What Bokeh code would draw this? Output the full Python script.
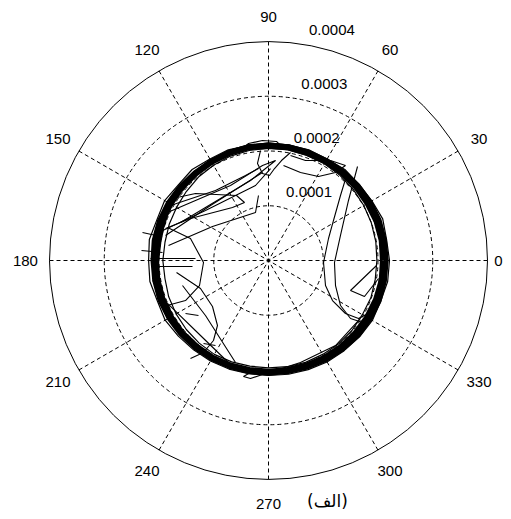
import numpy as np
from bokeh.plotting import figure
from bokeh.embed import file_html
from bokeh.resources import INLINE
from bokeh.core.properties import value

# ---------------- data (radial values in units of 1e-4) ----------------
grid_levels = [1, 2, 3]
outer_level = 4
radial_tick_labels = ["0.0001", "0.0002", "0.0003", "0.0004"]
radial_tick_values = [1, 2, 3, 4]
spoke_angles = [0, 30, 60, 90, 120, 150]
angle_tick_deg = [30, 60, 90, 120, 150, 180, 210, 240, 270, 300, 330]
angle_tick_labels = ["30", "60", "90", "120", "150", "180", "210", "240", "270", "300", "330"]
caption = "(الف)"

# main orbit passes: theta (deg) and rho (x1e-4)
orbit_theta = [0, 10, 20, 30, 40, 50, 60, 70, 80, 90, 100, 110, 120, 130, 140, 150, 160, 170, 180,
               190, 200, 210, 220, 230, 240, 250, 260, 270, 280, 290, 300, 310, 320, 330, 340, 350, 360]
orbit_mid = [2.09, 2.10, 2.10, 2.09, 2.09, 2.09, 2.09, 2.09, 2.10, 2.09, 2.10, 2.09, 2.08, 2.07, 2.07,
             2.07, 2.07, 2.06, 2.06, 2.06, 2.06, 2.06, 2.06, 2.05, 2.05, 2.04, 2.03, 2.03, 2.03, 2.04,
             2.05, 2.06, 2.07, 2.08, 2.09, 2.10, 2.09]
orbit_mid2 = [2.15, 2.15, 2.15, 2.14, 2.13, 2.12, 2.11, 2.11, 2.11, 2.11, 2.11, 2.10, 2.09, 2.09, 2.10,
              2.11, 2.12, 2.12, 2.11, 2.11, 2.11, 2.10, 2.09, 2.08, 2.07, 2.06, 2.06, 2.06, 2.06, 2.07,
              2.09, 2.11, 2.13, 2.14, 2.15, 2.15, 2.15]
orbit_out = [2.21, 2.19, 2.22, 2.18, 2.16, 2.17, 2.14, 2.15, 2.14, 2.15, 2.13, 2.15, 2.14, 2.17, 2.15,
             2.19, 2.17, 2.21, 2.19, 2.20, 2.16, 2.18, 2.15, 2.13, 2.12, 2.11, 2.10, 2.10, 2.11, 2.12,
             2.14, 2.15, 2.17, 2.19, 2.18, 2.21, 2.21]
orbit_in = [1.98, 1.99, 2.00, 2.01, 2.02, 2.03, 2.04, 2.04, 2.05, 2.05, 2.04, 2.03, 2.01, 1.99, 1.96,
            1.94, 1.93, 1.92, 1.93, 1.92, 1.94, 1.95, 1.96, 1.97, 1.98, 1.97, 1.96, 1.96, 1.97, 1.98,
            1.98, 1.99, 1.99, 1.98, 1.99, 1.98, 1.98]
orbit_z1 = [2.13, 2.07, 2.15, 2.08, 2.11, 2.06, 2.12, 2.07, 2.12, 2.08, 2.11, 2.06, 2.10, 2.04, 2.11,
            2.02, 2.13, 2.00, 2.14, 2.01, 2.11, 2.02, 2.09, 2.03, 2.08, 2.02, 2.06, 2.00, 2.06, 2.02,
            2.08, 2.03, 2.11, 2.05, 2.13, 2.05, 2.13]
orbit_z2 = [2.05, 2.14, 2.06, 2.13, 2.05, 2.12, 2.07, 2.11, 2.07, 2.11, 2.08, 2.12, 2.04, 2.12, 2.02,
            2.14, 2.00, 2.15, 2.01, 2.14, 2.02, 2.12, 2.03, 2.09, 2.03, 2.07, 2.01, 2.05, 2.02, 2.06,
            2.03, 2.09, 2.04, 2.13, 2.06, 2.16, 2.05]
orbit_drift = [2.12, 2.13, 2.11, 2.10, 2.11, 2.12, 2.10, 2.08, 2.07, 2.08, 2.09, 2.11, 2.12, 2.10, 2.09,
               2.05, 2.02, 2.00, 2.01, 2.04, 2.08, 2.10, 2.08, 2.04, 2.02, 2.05, 2.06, 2.02, 2.00, 2.03,
               2.06, 2.09, 2.11, 2.13, 2.12, 2.10, 2.12]

# excursions of the trajectory (x, y in units of 1e-4)
exc_right_d1 = [(1.443, 1.607), (1.315, 1.187), (1.187, 0.731), (1.096, 0.402), (1.005, -0.037),
                (1.041, -0.457), (1.169, -0.731), (1.406, -0.968), (1.644, -1.059), (1.863, -0.950)]
exc_right_d2 = [(1.626, 1.717), (1.461, 1.096), (1.315, 0.457), (1.205, -0.037), (1.224, -0.457),
                (1.315, -0.822), (1.498, -1.059), (1.717, -1.132)]
exc_right_fan = [(1.973, -0.091), (1.498, -0.548), (1.753, -0.658), (2.009, -0.329)]
exc_low_right = [(1.680, -1.059), (1.224, -1.553), (0.584, -1.863), (0.128, -2.009), (-0.237, -2.064)]
exc_bottom_loop = [(-0.110, -2.082), (-0.329, -2.155), (-0.457, -2.119), (-0.329, -2.046), (-0.110, -2.082)]
exc_top_loop = [(-0.511, 2.009), (-0.365, 2.137), (-0.110, 2.192), (0.146, 2.174), (0.256, 2.064)]
exc_top_tongue = [(-0.146, 2.009), (-0.201, 1.772), (-0.110, 1.589), (0.018, 1.553), (0.110, 1.680),
                  (0.237, 1.826), (0.402, 1.973)]
exc_top_right = [(0.274, 1.735), (0.584, 1.607), (0.913, 1.534), (1.224, 1.607), (1.406, 1.735),
                 (1.132, 1.826), (0.676, 1.826), (0.402, 1.918)]
exc_ul_1 = [(-2.009, 0.511), (-1.151, 0.913), (-0.237, 1.370), (0.037, 1.680)]
exc_ul_2 = [(-1.753, 1.132), (-1.333, 1.224), (-0.584, 1.187), (-0.438, 1.059), (-0.658, 0.968),
            (-1.425, 0.767), (-1.881, 0.584)]
exc_ul_3 = [(-1.881, 0.457), (-1.059, 1.005), (-0.110, 1.607)]
exc_ul_4 = [(-1.826, 0.274), (-1.023, 0.621), (-0.237, 0.877), (-0.183, 1.187)]
exc_ul_5 = [(-1.973, 0.822), (-0.694, 1.370), (-0.110, 1.735), (0.128, 1.826), (-0.329, 1.461),
            (-1.607, 0.694)]
exc_ul_6 = [(-1.790, 1.005), (-0.968, 1.279), (-0.420, 1.553), (-0.183, 1.680)]
exc_left_bulge = [(-1.845, 0.603), (-1.425, 0.402), (-1.187, -0.037), (-1.260, -0.457),
                  (-1.516, -0.731), (-1.918, -0.840)]
exc_left_arc = [(-1.680, -0.219), (-1.242, -0.511), (-1.023, -0.840), (-0.932, -1.187),
                (-1.005, -1.461), (-1.187, -1.680), (-1.425, -1.790)]
exc_diag_1 = [(-1.571, -0.457), (-1.151, -1.005), (-0.603, -1.863)]
exc_diag_2 = [(-1.845, -0.785), (-1.242, -1.370), (-0.639, -1.954)]
exc_tick_1 = [(-1.516, -0.968), (-1.279, -1.005)]
exc_tick_2 = [(-1.187, -1.516), (-0.968, -1.553)]
exc_spike_1 = [(-2.301, 0.511), (-1.973, 0.438)]
exc_spike_2 = [(-2.320, 0.183), (-1.936, 0.146)]
exc_left_h1 = [(-2.155, 0.037), (-1.333, 0.037)]
exc_left_h2 = [(-2.064, -0.110), (-1.388, -0.110)]

excursions = [exc_right_d1, exc_right_d2, exc_right_fan, exc_low_right, exc_bottom_loop,
              exc_top_loop, exc_top_tongue, exc_top_right, exc_ul_1, exc_ul_2, exc_ul_3,
              exc_ul_4, exc_ul_5, exc_ul_6, exc_left_bulge, exc_left_arc, exc_diag_1, exc_diag_2,
              exc_tick_1, exc_tick_2, exc_spike_1, exc_spike_2, exc_left_h1, exc_left_h2]

# ---------------- figure ----------------
W, H = 503, 511
scale = 54.75  # px per unit
cx, cy = 268, 260
p = figure(width=W, height=H, output_backend="svg", toolbar_location=None,
           x_range=(-cx / scale, (W - cx) / scale),
           y_range=(-(H - cy) / scale, cy / scale),
           min_border=0, background_fill_color="white", border_fill_color="white")
p.axis.visible = False
p.grid.visible = False
p.outline_line_color = None

FONT = "Liberation Sans"

# dashed range circles
p.circle(x=[0] * len(grid_levels), y=[0] * len(grid_levels), radius=grid_levels,
         fill_color=None, line_color="black", line_width=1, line_dash="4 3")
# outer circle
p.circle(x=[0], y=[0], radius=[outer_level], fill_color=None, line_color="black", line_width=1)

# spokes
sa = np.deg2rad(spoke_angles)
p.multi_line(xs=[[outer_level * np.cos(a), -outer_level * np.cos(a)] for a in sa],
             ys=[[outer_level * np.sin(a), -outer_level * np.sin(a)] for a in sa],
             line_color="black", line_width=1, line_dash="4 3")

# trajectory: main orbit passes
th = np.deg2rad(orbit_theta)
for rho, lw in [(orbit_mid, 6.0), (orbit_mid2, 5.0), (orbit_out, 1.2), (orbit_in, 1.2),
                (orbit_z1, 1.2), (orbit_z2, 1.2), (orbit_drift, 1.6)]:
    r = np.array(rho)
    p.line(r * np.cos(th), r * np.sin(th), line_color="black", line_width=lw)

# trajectory: excursions
p.multi_line(xs=[[pt[0] for pt in e] for e in excursions],
             ys=[[pt[1] for pt in e] for e in excursions],
             line_color="black", line_width=1.1)

# angle labels
lab_r = 4.44
at = np.deg2rad(angle_tick_deg)
p.text(x=lab_r * np.cos(at), y=lab_r * np.sin(at), text=angle_tick_labels,
       text_font=value(FONT), text_font_size="15px", text_color="black",
       text_align="center", text_baseline="middle")
p.text(x=[(502 - cx) / scale], y=[0], text=["0"], text_font=value(FONT), text_font_size="15px",
       text_color="black", text_align="right", text_baseline="middle")

# radial labels along 82 degrees
ra = np.deg2rad(82)
rv = np.array(radial_tick_values)
p.text(x=rv * np.cos(ra), y=rv * np.sin(ra), text=radial_tick_labels,
       text_font=value(FONT), text_font_size="15px", text_color="black",
       text_align="left", text_baseline="middle", x_offset=10, y_offset=-14)

# caption
p.text(x=[(327 - cx) / scale], y=[(cy - 500) / scale], text=[caption],
       text_font=value("DejaVu Sans"), text_font_size="17px", text_color="black",
       text_align="center", text_baseline="middle")

open("out.html", "w").write(file_html(p, INLINE))
